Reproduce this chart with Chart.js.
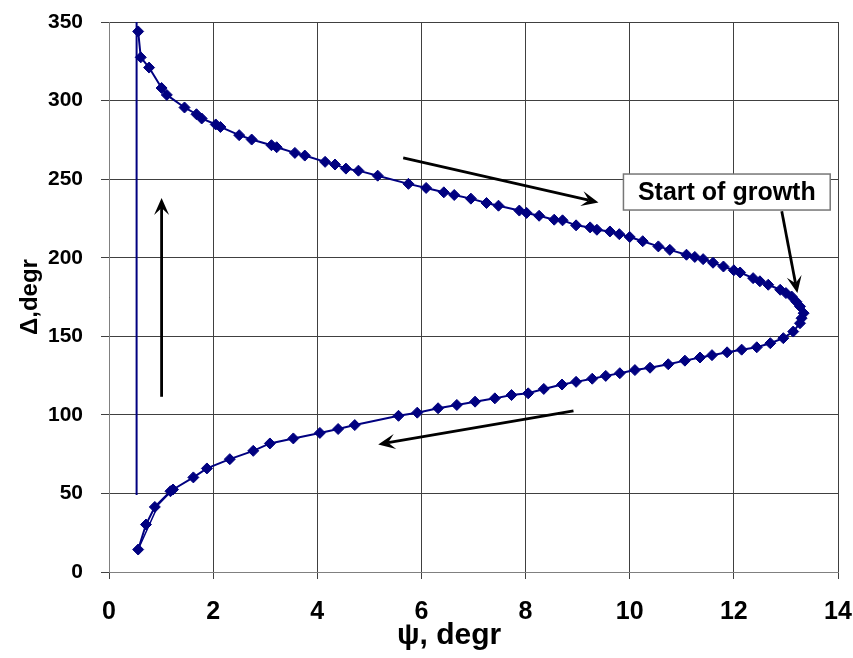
<!DOCTYPE html>
<html>
<head>
<meta charset="utf-8">
<script src="https://cdn.jsdelivr.net/npm/chart.js@4/dist/chart.umd.min.js"></script>
<style>
  html, body { margin: 0; padding: 0; background: #fff; }
  canvas { display: block; }
</style>
</head>
<body>
<canvas id="growthChart" width="853" height="658"></canvas>
<script>
// ψ / Δ readings along the loop: from the top, round the tip, down to the bottom
const psi = [
  0.56, 0.61, 0.77, 1.01, 1.11, 1.45, 1.68, 1.78, 2.05, 2.14, 2.50, 2.74, 3.12, 3.22, 3.57,
  3.76, 4.15, 4.34, 4.55, 4.79, 5.16, 5.75, 6.09, 6.43, 6.63, 6.95, 7.25, 7.48, 7.88, 8.02,
  8.26, 8.55, 8.71, 8.97, 9.24, 9.37, 9.62, 9.80, 10.0, 10.25, 10.55, 10.77, 11.09, 11.25, 11.41,
  11.6, 11.8, 12.0, 12.12, 12.37, 12.5, 12.66, 12.89, 13.0, 13.11, 13.2, 13.27, 13.34,
  13.3, 13.27, 13.14, 12.95, 12.70, 12.44, 12.15, 11.87, 11.58, 11.35, 11.06, 10.74, 10.39, 10.1,
  9.81, 9.54, 9.28, 8.97, 8.70, 8.35, 8.05, 7.73, 7.41, 7.03, 6.68, 6.32, 5.92, 5.56, 4.72,
  4.40, 4.05, 3.54, 3.09, 2.77, 2.32, 1.88, 1.62, 1.23, 1.18, 0.88, 0.71, 0.56
];
const delta = [
  344, 327.5, 321, 308, 303.6, 295.6, 291.3, 288.6, 284.8, 283.2, 278, 275.2, 271.6, 270.3, 266.7,
  265, 261, 259.3, 256.7, 255.4, 252.2, 247, 244.4, 241.6, 239.9, 237.6, 234.8, 233.1, 230, 228.5,
  226.7, 224.2, 223.8, 220.6, 219.3, 217.8, 216.7, 215, 213.2, 210.5, 207.2, 205, 201.9, 200.5, 199.1,
  196.8, 194.4, 192, 190.6, 187, 185, 182.8, 179.6, 177.5, 175.3, 172, 169, 164.7,
  161.5, 158.3, 153, 148.8, 145.6, 143, 141.5, 139.8, 138, 136.5, 134.5, 132.2, 130, 128.5,
  126.5, 124.8, 123, 121, 119.3, 116.5, 113.7, 112.6, 110.5, 108.4, 106.3, 104.2, 101.4, 99.4, 93.5,
  91, 88.5, 85, 81.8, 77.1, 71.8, 65.9, 60.2, 52.5, 51.4, 41.4, 30.2, 14.3
];

// short closing stroke at the bottom of the loop
const psiClose = [0.56, 0.95, 1.23];
const deltaClose = [14.3, 43, 52.5];

// vertical return line
const psiReturn = [0.53, 0.53];
const deltaReturn = [49, 350];

const xTicks = [0, 2, 4, 6, 8, 10, 12, 14];
const yTicks = [0, 50, 100, 150, 200, 250, 300, 350];

const navy = '#000080';
const gridColor = '#404040';
const fontFamily = '"Liberation Sans", Arial, sans-serif';

function toPoints(xs, ys) {
  return xs.map((v, i) => ({ x: v, y: ys[i] }));
}

// arrows, callout and the ψ title, in axis units
const arrows = [
  { from: [5.65, 263.5], to: [9.40, 235.2] },
  { from: [8.92, 102.6], to: [5.17, 81.2] },
  { from: [1.01, 111.5], to: [1.01, 238] },
  { from: [12.92, 229.5], to: [13.22, 177.5] }
];
const callout = { text: 'Start of growth', x: 11.865, y: 241.8 };
const xTitle = { text: 'ψ, degr', x: 6.53 };

const notesPlugin = {
  id: 'notes',
  afterDatasetsDraw(chart) {
    const { ctx, scales: { x, y } } = chart;
    ctx.save();

    // callout box
    ctx.font = 'bold 25px ' + fontFamily;
    const tw = ctx.measureText(callout.text).width;
    const cx = x.getPixelForValue(callout.x);
    const cy = y.getPixelForValue(callout.y);
    const bw = tw + 29, bh = 36;
    ctx.fillStyle = '#fff';
    ctx.strokeStyle = '#777';
    ctx.lineWidth = 1.5;
    ctx.fillRect(cx - bw / 2, cy - bh / 2, bw, bh);
    ctx.strokeRect(cx - bw / 2, cy - bh / 2, bw, bh);
    ctx.fillStyle = '#000';
    ctx.textAlign = 'center';
    ctx.textBaseline = 'middle';
    ctx.fillText(callout.text, cx, cy + 1);

    // arrows with stealth heads
    ctx.strokeStyle = '#000';
    ctx.fillStyle = '#000';
    ctx.lineWidth = 2.8;
    arrows.forEach(a => {
      const x1 = x.getPixelForValue(a.from[0]), y1 = y.getPixelForValue(a.from[1]);
      const x2 = x.getPixelForValue(a.to[0]), y2 = y.getPixelForValue(a.to[1]);
      const ang = Math.atan2(y2 - y1, x2 - x1);
      const len = 17, half = 7.5, notch = 10;
      const bx = x2 - Math.cos(ang) * notch, by = y2 - Math.sin(ang) * notch;
      ctx.beginPath();
      ctx.moveTo(x1, y1);
      ctx.lineTo(bx, by);
      ctx.stroke();
      const backX = x2 - Math.cos(ang) * len, backY = y2 - Math.sin(ang) * len;
      const px = -Math.sin(ang) * half, py = Math.cos(ang) * half;
      ctx.beginPath();
      ctx.moveTo(x2, y2);
      ctx.lineTo(backX + px, backY + py);
      ctx.lineTo(bx, by);
      ctx.lineTo(backX - px, backY - py);
      ctx.closePath();
      ctx.fill();
    });

    // x axis title
    ctx.font = 'bold 30px ' + fontFamily;
    ctx.fillText(xTitle.text, x.getPixelForValue(xTitle.x), x.bottom - 22);
    ctx.restore();
  }
};

const ctx = document.getElementById('growthChart').getContext('2d');
new Chart(ctx, {
  type: 'scatter',
  data: {
    datasets: [
      {
        data: toPoints(psiReturn, deltaReturn),
        showLine: true,
        borderColor: navy,
        borderWidth: 2,
        pointRadius: 0
      },
      {
        data: toPoints(psiClose, deltaClose),
        showLine: true,
        borderColor: navy,
        borderWidth: 1.5,
        pointRadius: 0
      },
      {
        data: toPoints(psi, delta),
        showLine: true,
        borderColor: navy,
        borderWidth: 2,
        pointStyle: 'rectRot',
        pointRadius: 5.5,
        pointBackgroundColor: navy,
        pointBorderColor: navy,
        pointBorderWidth: 1
      }
    ]
  },
  options: {
    responsive: false,
    animation: false,
    devicePixelRatio: 1,
    layout: { padding: { top: 22, right: 15, left: 0, bottom: 0 } },
    plugins: {
      legend: { display: false },
      tooltip: { enabled: false }
    },
    scales: {
      x: {
        type: 'linear',
        min: 0,
        max: 14,
        afterFit: s => { s.height = 86; s.paddingLeft = 0; s.paddingRight = 0; },
        afterBuildTicks: s => { s.ticks = xTicks.map(v => ({ value: v })); },
        grid: { color: gridColor, lineWidth: 1, tickLength: 7, tickColor: gridColor },
        border: { color: '#808080', width: 1 },
        ticks: {
          color: '#000',
          padding: 18,
          maxRotation: 0,
          font: { family: fontFamily, size: 25, weight: 'bold' }
        },
        title: { display: false }
      },
      y: {
        type: 'linear',
        min: 0,
        max: 350,
        afterFit: s => { s.width = 109; s.paddingTop = 0; s.paddingBottom = 0; },
        afterBuildTicks: s => { s.ticks = yTicks.map(v => ({ value: v })); },
        grid: { color: gridColor, lineWidth: 1, tickLength: 8, tickColor: gridColor },
        border: { color: '#808080', width: 1 },
        ticks: {
          color: '#000',
          padding: 18,
          font: { family: fontFamily, size: 21, weight: 'bold' }
        },
        title: {
          display: true,
          text: 'Δ,degr',
          color: '#000',
          padding: { top: 16, bottom: 0 },
          font: { family: fontFamily, size: 24, weight: 'bold' }
        }
      }
    }
  },
  plugins: [notesPlugin]
});
</script>
</body>
</html>
